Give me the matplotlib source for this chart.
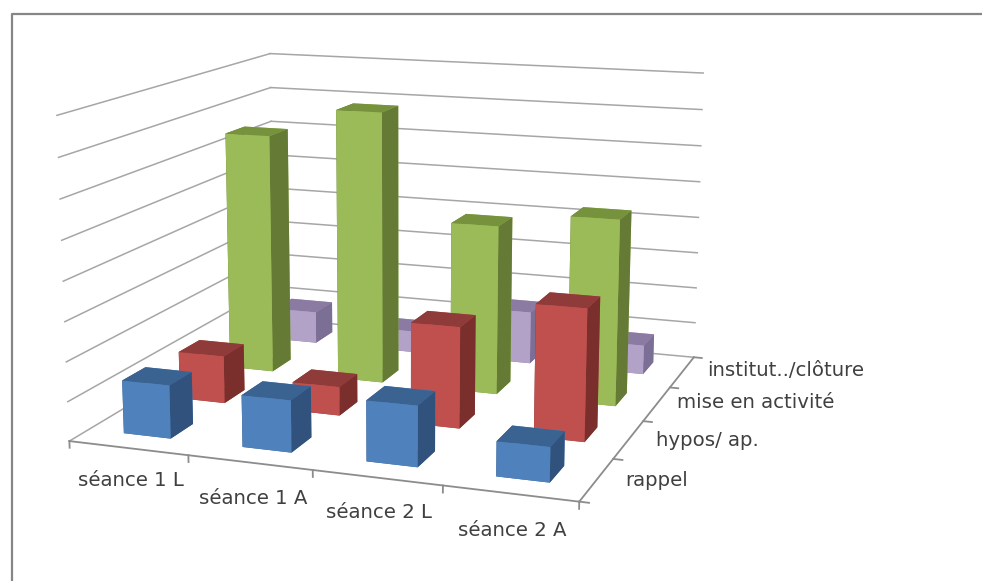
import matplotlib
matplotlib.use("Agg")
import matplotlib.pyplot as plt
from matplotlib.lines import Line2D

categories = ["séance 1 L", "séance 1 A", "séance 2 L", "séance 2 A"]
series = ["rappel", "hypos/ ap.", "mise en activité", "institut../clôture"]
rappel = [1.35, 1.3, 1.5, 0.85]
hypos = [1.25, 0.75, 2.6, 3.35]
mise = [6.5, 7.3, 4.5, 4.9]
institut = [0.9, 0.6, 1.45, 0.8]
values = [rappel, hypos, mise, institut]
face_colors = [("#4F81BD", "#3A6391", "#30527C"),
               ("#C0504D", "#8F3B39", "#7B2F2D"),
               ("#9BBB59", "#76923C", "#647A35"),
               ("#B3A2C7", "#8B7BA3", "#7C6F95")]
zmax = 8

fig = plt.figure(figsize=(9.82, 5.81), dpi=100)
# view found by fitting the box corners to the picture
ax = fig.add_axes([214.4 / 982, 144.8 / 581, 368.4 / 982, 368.4 / 581],
                  projection="3d", computed_zorder=False)
ax.set_xlim(0, 4)
ax.set_ylim(0, 4)
ax.set_zlim(0, zmax)
ax.set_axis_off()
ax.set_proj_type("persp", focal_length=1)
ax.view_init(elev=12.557, azim=-70.314)
ax.set_box_aspect((1, 0.982, 0.626), zoom=2.009)

grid = dict(color="#A6A6A6", lw=1.1, zorder=1, clip_on=False)
edge = dict(color="#8C8C8C", lw=1.3, zorder=2, clip_on=False)
for z in range(zmax + 1):
    ax.plot([0, 0], [0, 4], [z, z], **grid)
    ax.plot([0, 4], [4, 4], [z, z], **grid)
ax.plot([0, 4], [0, 0], [0, 0], **edge)
ax.plot([4, 4], [0, 4], [0, 0], **edge)
for i in range(5):
    ax.plot([i, i], [0, 0], [0, -0.17], **edge)
    ax.plot([4, 4.07], [i, i], [0, 0], **edge)

bar_w = 0.4
order = 10
for j in range(3, -1, -1):
    front, top, side = face_colors[j]
    for i in range(4):
        cols = [top, top, front, front, side, side]
        bars = ax.bar3d(i + 0.3, j + 0.32, 0, bar_w, bar_w, values[j][i], color=cols,
                        shade=False, zorder=order)
        bars.set_clip_on(False)
        order += 1

txt = dict(family="DejaVu Sans", fontsize=14.2, color="#404040", va="center", ha="left")
cat_x = [78, 199, 326, 458]
cat_y = [481, 498, 512, 531]
for lab, px, py in zip(categories, cat_x, cat_y):
    fig.text(px / 982, 1 - py / 581, lab, **txt)
ser_x = [625, 656, 677, 707]
ser_y = [480, 441, 403, 370]
for lab, px, py in zip(series, ser_x, ser_y):
    fig.text(px / 982, 1 - py / 581, lab, **txt)

fig.add_artist(Line2D([12 / 982, 12 / 982, 1], [0, 1 - 14 / 581, 1 - 14 / 581],
                      color="#868686", lw=1.6))
fig.savefig("out.png", dpi=100)
